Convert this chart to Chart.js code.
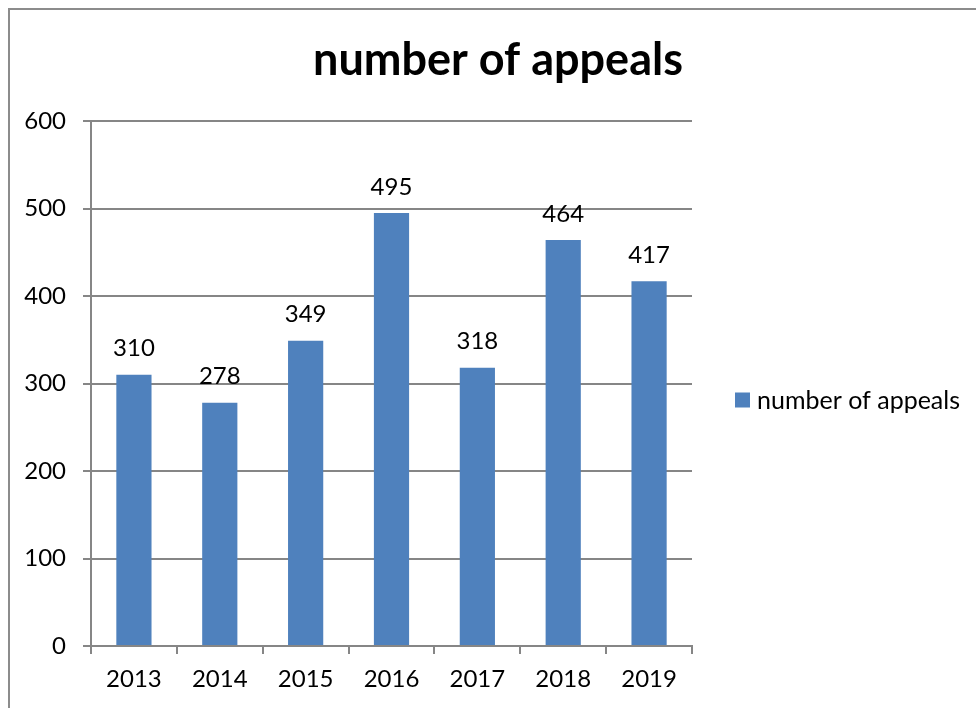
<!DOCTYPE html>
<html>
<head>
<meta charset="utf-8">
<script src="https://cdn.jsdelivr.net/npm/chart.js@4/dist/chart.umd.min.js"></script>
<style>
  html, body { margin: 0; padding: 0; background: #fff; overflow: hidden; }
  #wrap { position: absolute; left: 0; top: 0; width: 976px; height: 708px; }
  #frame { position: absolute; left: 8px; top: 8px; width: 1200px; height: 1200px;
    border-left: 2px solid #8c8c8c; border-top: 2px solid #8c8c8c; }
</style>
</head>
<body>
<div id="frame"></div>
<div id="wrap"><canvas id="ch"></canvas></div>
<script>
// datos
var ANIOS = ['2013', '2014', '2015', '2016', '2017', '2018', '2019'];
var APELACIONES = [310, 278, 349, 495, 318, 464, 417];
var SERIE = 'number of appeals';
var Y_MAX = 600;
var Y_PASO = 100;

var AZUL = '#4f81bd';
var GRIS = '#868686';
var FUENTE = 'Lato, "Open Sans", sans-serif';

// etiquetas de valor encima de cada barra
var etiquetas = {
  id: 'etiquetas',
  afterDatasetsDraw: function (chart) {
    var ctx = chart.ctx;
    var meta = chart.getDatasetMeta(0);
    ctx.save();
    ctx.font = '24px ' + FUENTE;
    ctx.fillStyle = '#000';
    ctx.textAlign = 'center';
    ctx.textBaseline = 'middle';
    meta.data.forEach(function (bar, i) {
      ctx.fillText(String(chart.data.datasets[0].data[i]), bar.x, bar.y - 26);
    });
    ctx.restore();
  }
};

// leyenda a la derecha, fuera del area de trazado
var leyenda = {
  id: 'leyenda',
  afterDraw: function (chart) {
    var ctx = chart.ctx;
    var a = chart.chartArea;
    var ds = chart.data.datasets[0];
    var x = a.right + 43;
    var y = (a.top + a.bottom) / 2 + 17;
    ctx.save();
    ctx.fillStyle = ds.backgroundColor;
    ctx.fillRect(x, y - 8, 15, 15);
    ctx.font = '25px ' + FUENTE;
    ctx.fillStyle = '#000';
    ctx.textAlign = 'left';
    ctx.textBaseline = 'middle';
    ctx.fillText(ds.label, x + 22, y);
    ctx.restore();
  }
};

new Chart(document.getElementById('ch'), {
  type: 'bar',
  data: {
    labels: ANIOS,
    datasets: [{ label: SERIE, data: APELACIONES, backgroundColor: AZUL,
      categoryPercentage: 1, barPercentage: 0.41 }]
  },
  options: {
    responsive: true,
    maintainAspectRatio: false,
    animation: false,
    layout: { padding: { left: 20, right: 0, top: 0, bottom: 0 } },
    plugins: {
      legend: { display: false },
      tooltip: { enabled: false },
      title: {
        display: true, text: SERIE, color: '#000',
        font: { family: FUENTE, size: 45, weight: 'bold' },
        padding: { top: 33, bottom: 34 }
      }
    },
    scales: {
      x: {
        grid: { display: true, offset: true, drawOnChartArea: false, drawTicks: true,
          tickLength: 8, color: GRIS, lineWidth: 2 },
        border: { color: GRIS, width: 2 },
        ticks: { color: '#000', font: { family: FUENTE, size: 24 }, padding: 11 },
        afterFit: function (s) { s.height = 62; }
      },
      y: {
        min: 0, max: Y_MAX,
        grid: { color: GRIS, lineWidth: 2, tickLength: 8 },
        border: { color: GRIS, width: 2 },
        ticks: { stepSize: Y_PASO, color: '#000', font: { family: FUENTE, size: 24 }, padding: 17 },
        afterFit: function (s) { s.width = 71; }
      },
      // eje vacio que reserva el hueco de la leyenda
      hueco: {
        position: 'right', display: true,
        grid: { display: false }, border: { display: false },
        ticks: { display: false },
        afterFit: function (s) { s.width = 284; }
      }
    }
  },
  plugins: [etiquetas, leyenda]
});
</script>
</body>
</html>
